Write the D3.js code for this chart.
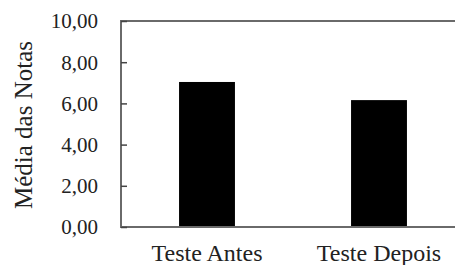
<!DOCTYPE html>
<html>
<head>
<meta charset="utf-8">
<script src="https://cdn.jsdelivr.net/npm/d3@7"></script>
<style>
  body { margin: 0; background: #fff; }
</style>
</head>
<body>
<div id="chart"></div>
<script>
// data
var categories = ['Teste Antes', 'Teste Depois']
var medias = [7.04, 6.16]
var yTicks = [0, 2, 4, 6, 8, 10]

var width = 455, height = 265
var margin = {top: 21, right: -10, bottom: 38, left: 121}
var fontFam = "'Liberation Serif', 'Times New Roman', serif"

var svg = d3.select('#chart').append('svg')
  .attr('width', width)
  .attr('height', height)
  .style('font-family', fontFam)

var x = d3.scaleBand()
  .domain(categories)
  .range([margin.left, width - margin.right])
  .paddingInner(0.675)
  .paddingOuter(0.3375)

var y = d3.scaleLinear()
  .domain([0, 10])
  .range([height - margin.bottom, margin.top])

var fmt = function(d){ return d3.format('.2f')(d).replace('.', ',') }

// bars
svg.append('g').selectAll('rect')
  .data(medias)
  .enter().append('rect')
  .attr('x', function(d, i){ return x(categories[i]) })
  .attr('y', function(d){ return y(d) })
  .attr('width', x.bandwidth())
  .attr('height', function(d){ return y(0) - y(d) })
  .attr('fill', '#000')

// frame
svg.append('rect')
  .attr('x', margin.left)
  .attr('y', margin.top)
  .attr('width', width - margin.right - margin.left)
  .attr('height', y(0) - margin.top)
  .attr('fill', 'none')
  .attr('stroke', '#6a6a6a')
  .attr('stroke-width', 2)

// y axis (inward ticks)
var yAxis = svg.append('g')
  .attr('transform', 'translate(' + margin.left + ',0)')
  .call(d3.axisRight(y).tickValues(yTicks).tickSize(6).tickFormat(''))
yAxis.select('.domain').remove()
yAxis.selectAll('.tick line').attr('stroke', '#444').attr('stroke-width', 1.5)

svg.append('g').selectAll('text')
  .data(yTicks)
  .enter().append('text')
  .attr('x', margin.left - 23)
  .attr('y', function(d){ return y(d) })
  .attr('dy', '0.35em')
  .attr('text-anchor', 'end')
  .attr('font-size', 21)
  .attr('fill', '#222')
  .text(fmt)

// x labels
svg.append('g').selectAll('text')
  .data(categories)
  .enter().append('text')
  .attr('x', function(d){ return x(d) + x.bandwidth() / 2 })
  .attr('y', height - 4)
  .attr('text-anchor', 'middle')
  .attr('font-size', 24)
  .attr('fill', '#222')
  .text(function(d){ return d })

// y title
svg.append('text')
  .attr('transform', 'translate(32,' + ((margin.top + y(0)) / 2 + 1) + ') rotate(-90)')
  .attr('text-anchor', 'middle')
  .attr('font-size', 25)
  .attr('fill', '#222')
  .text('Média das Notas')
</script>
</body>
</html>
